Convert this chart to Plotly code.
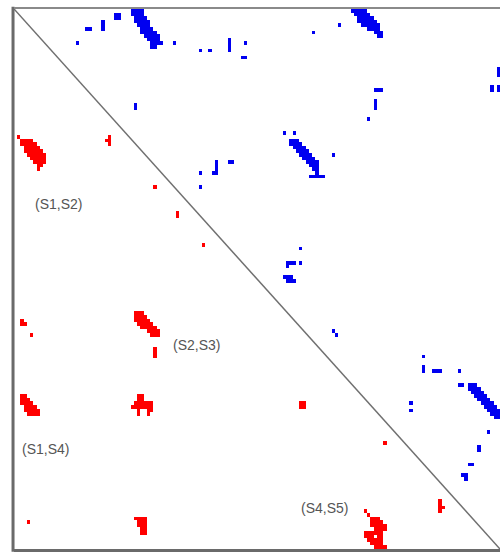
import numpy as np
import plotly.graph_objects as go

N = 150  # residues per axis

# contact runs: (row, first_col, last_col)
blue_runs = [
    (5, 22, 23), (3, 27, 27), (4, 27, 27), (5, 27, 27), (1, 31, 32), (2, 31, 32),
    (0, 36, 39), (1, 36, 39), (2, 37, 40), (3, 37, 41), (4, 38, 41), (5, 39, 42),
    (6, 39, 43), (7, 40, 44), (8, 41, 44), (9, 42, 45), (10, 42, 43),
    (9, 19, 19), (9, 49, 49), (11, 57, 57), (11, 60, 60),
    (8, 66, 66), (9, 66, 66), (10, 66, 66), (11, 66, 66), (9, 71, 71), (13, 70, 71),
    (26, 37, 37), (27, 37, 37),
    (0, 104, 108), (1, 105, 109), (2, 106, 110), (3, 106, 111), (4, 107, 112),
    (5, 109, 112), (6, 111, 113), (7, 112, 113),
    (4, 100, 100), (6, 92, 92), (22, 111, 113), (25, 111, 111), (26, 111, 111),
    (27, 111, 111), (30, 109, 109), (34, 83, 83), (34, 86, 86),
    (16, 149, 149), (17, 149, 149), (18, 149, 149),
    (21, 147, 147), (22, 147, 147), (21, 149, 149), (22, 149, 149),
    (45, 57, 57), (49, 57, 57), (42, 62, 62), (43, 62, 62), (44, 62, 62), (45, 61, 62),
    (42, 66, 67),
    (36, 85, 87), (37, 85, 88), (38, 86, 89), (39, 87, 90), (40, 88, 91), (41, 89, 92),
    (42, 90, 93), (43, 91, 93), (44, 92, 93), (45, 93, 93), (46, 91, 95),
    (40, 98, 98), (66, 88, 88),
    (70, 84, 86), (71, 84, 84), (70, 88, 88), (74, 83, 85), (75, 84, 86),
    (89, 98, 98), (90, 99, 99),
    (96, 126, 126), (99, 126, 126), (100, 126, 126), (100, 129, 131), (100, 137, 137),
    (104, 137, 138),
    (104, 140, 142), (105, 140, 143), (106, 141, 144), (107, 142, 145), (108, 143, 146),
    (109, 144, 147), (110, 145, 148), (111, 146, 149), (112, 147, 149), (113, 148, 149),
    (109, 122, 122), (111, 122, 122), (117, 146, 146), (121, 143, 143), (122, 143, 143),
    (126, 140, 141), (129, 138, 139), (130, 139, 139),
]

red_runs = [
    (35, 1, 1),
    (36, 2, 5), (37, 2, 6), (38, 3, 7), (39, 3, 8), (40, 4, 9), (41, 5, 9),
    (42, 6, 9), (43, 7, 8), (44, 7, 7),
    (35, 29, 29), (36, 28, 29), (37, 29, 29),
    (49, 43, 43), (56, 50, 50), (57, 50, 50), (65, 58, 58),
    (86, 2, 2), (87, 2, 3), (90, 5, 5),
    (84, 37, 39), (85, 37, 40), (86, 37, 41), (87, 38, 42), (88, 39, 43),
    (89, 41, 44), (90, 42, 44),
    (94, 43, 43), (95, 43, 43), (96, 43, 43),
    (107, 2, 3), (108, 2, 4), (109, 2, 5), (110, 3, 6), (111, 3, 7), (112, 4, 7),
    (107, 38, 39), (108, 38, 39), (109, 37, 42), (110, 36, 42), (111, 38, 38),
    (111, 41, 42), (112, 38, 38), (112, 41, 41),
    (109, 88, 89), (110, 88, 89), (120, 114, 114),
    (136, 131, 131), (137, 131, 131), (138, 131, 132), (139, 131, 131),
    (139, 108, 108), (140, 109, 109), (141, 110, 112), (142, 110, 113),
    (143, 110, 114), (144, 111, 114), (145, 108, 113), (146, 108, 110),
    (146, 112, 113), (147, 109, 113), (148, 110, 113), (149, 111, 114),
    (142, 4, 4),
    (141, 37, 40), (142, 38, 40), (143, 38, 40), (144, 39, 40), (145, 39, 40),
]

label_text = ["(S1,S2)", "(S2,S3)", "(S1,S4)", "(S4,S5)"]
label_col = [13.3, 55.9, 9.3, 95.4]
label_row = [53.6, 92.8, 121.7, 138.0]

z = np.full((N, N), np.nan)
for r, c0, c1 in blue_runs:
    z[r, c0:c1 + 1] = 1
for r, c0, c1 in red_runs:
    z[r, c0:c1 + 1] = 2

fig = go.Figure()
fig.add_trace(go.Heatmap(
    z=z, x=np.arange(N), y=np.arange(N),
    colorscale=[[0, "#0000f0"], [0.5, "#0000f0"], [0.5, "#ff0000"], [1, "#ff0000"]],
    zmin=1, zmax=2, showscale=False, hoverinfo="skip",
))

fig.add_shape(type="line", xref="x", yref="y", x0=-0.5, y0=-0.5, x1=N - 0.5, y1=N - 0.5,
              line=dict(color="#707070", width=1.5))
# frame
fig.add_shape(type="line", xref="paper", yref="paper", x0=-0.002, x1=-0.002, y0=-0.005, y1=1.004,
              line=dict(color="#6a6a6a", width=3))
fig.add_shape(type="line", xref="paper", yref="paper", x0=0, x1=1, y0=1.002, y1=1.002,
              line=dict(color="#8a8a8a", width=2))
fig.add_shape(type="line", xref="paper", yref="paper", x0=0, x1=1, y0=-0.003, y1=-0.003,
              line=dict(color="#6a6a6a", width=3))

for t, c, r in zip(label_text, label_col, label_row):
    fig.add_annotation(x=c, y=r, xref="x", yref="y", text=t, showarrow=False,
                       font=dict(family="Liberation Sans Narrow, Arial Narrow, Liberation Sans",
                                 size=14, color="#555555"))

fig.update_xaxes(range=[-0.5, N - 0.5], visible=False, showgrid=False, zeroline=False)
fig.update_yaxes(range=[N - 0.5, -0.5], visible=False, showgrid=False, zeroline=False)
fig.update_layout(width=500, height=555, margin=dict(l=14, r=0, t=9, b=6),
                  paper_bgcolor="white", plot_bgcolor="white", showlegend=False)

fig.write_html("out.html", config={"displayModeBar": False},
               post_script="document.body.style.margin='0';document.body.style.overflow='hidden';")
